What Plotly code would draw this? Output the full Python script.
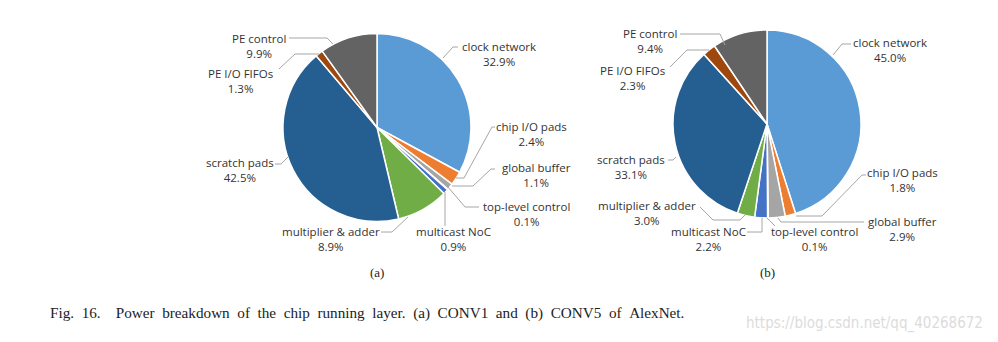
import plotly.graph_objects as go

# ---------------- data ----------------
categories = ["clock network", "chip I/O pads", "global buffer", "top-level control",
              "multicast NoC", "multiplier & adder", "scratch pads", "PE I/O FIFOs", "PE control"]
conv1_share = [32.9, 2.4, 1.1, 0.1, 0.9, 8.9, 42.5, 1.3, 9.9]
conv5_share = [45.0, 1.8, 2.9, 0.1, 2.2, 3.0, 33.1, 2.3, 9.4]
slice_colors = ["#5B9BD5", "#ED7D31", "#A5A5A5", "#FFC000", "#4472C4",
                "#70AD47", "#255E91", "#9E480E", "#636363"]

W, H = 998, 342
R = 94
centers = [(377, 127.5), (767, 124)]

# label layout (pixel centre of two-line label) per pie
label_pos_a = [(499, 54), (531, 134), (536, 175), (526, 214), (453, 239),
               (331, 239), (240, 170), (240, 81), (259, 46)]
label_pos_b = [(890, 50), (902, 180), (902, 229), (814, 239), (708, 239),
               (647, 213), (631, 167), (632, 78), (650, 41)]

# leader-line layout (pixel points)
leaders_a = [
    [(443, 58), (453, 47), (458, 47)],
    [(456, 178), (464, 178), (492, 127), (495, 127)],
    [(452, 186), (473, 186), (491, 169), (495, 169)],
    [(448, 187), (465, 207), (479, 207)],
    [(445, 192), (445, 226)],
    [(408, 217), (392, 232), (381, 232)],
    [(288, 157), (281, 164), (275, 164)],
    [(319, 54), (295, 54), (279, 69)],
    [(333, 44), (327, 38), (289, 38)],
]
leaders_b = [
    [(833, 55), (842, 44), (851, 44)],
    [(796, 216), (822, 216), (862, 175), (866, 175)],
    [(778, 218), (781, 222), (864, 222)],
    [(767, 218), (775, 226)],
    [(762, 218), (762, 232), (747, 232)],
    [(745, 215), (740, 220), (713, 220), (700, 207)],
    [(676, 157), (673, 160), (668, 160)],
    [(709, 50), (687, 50), (670, 67)],
    [(725, 45), (720, 34), (680, 34)],
]

LABEL_FONT = dict(family="Open Sans, Noto Sans, sans-serif", size=11.5, color="#333333")
LEADER_COLOR = "#A6A6A6"

fig = go.Figure()

# invisible pixel-space axes for annotations / leader lines
fig.add_trace(go.Scatter(x=[0, W], y=[0, H], mode="markers",
                         marker=dict(opacity=0), hoverinfo="skip", showlegend=False))

for (cx, cy), vals in zip(centers, [conv1_share, conv5_share]):
    fig.add_trace(go.Pie(
        labels=categories, values=vals, sort=False, direction="clockwise", rotation=0,
        marker=dict(colors=slice_colors, line=dict(color="white", width=1.5)),
        textinfo="none", hoverinfo="skip", showlegend=False,
        domain=dict(x=[(cx - R) / W, (cx + R) / W], y=[1 - (cy + R) / H, 1 - (cy - R) / H]),
    ))

annotations = []
shapes = []
for vals, lpos, leads in [(conv1_share, label_pos_a, leaders_a), (conv5_share, label_pos_b, leaders_b)]:
    for cat, v, (lx, ly), pts in zip(categories, vals, lpos, leads):
        annotations.append(dict(x=lx, y=ly, xref="x", yref="y", text=f"{cat}<br>{v:.1f}%",
                                showarrow=False, font=LABEL_FONT, align="center",
                                xanchor="center", yanchor="middle"))
        path = "M " + " L ".join(f"{px},{py}" for px, py in pts)
        shapes.append(dict(type="path", path=path, xref="x", yref="y",
                           line=dict(color=LEADER_COLOR, width=1)))

SERIF = "Liberation Serif, Times New Roman, serif"
for (cx, _), sub in zip(centers, ["(a)", "(b)"]):
    annotations.append(dict(x=cx, y=272, xref="x", yref="y", text=sub, showarrow=False,
                            font=dict(family=SERIF, size=13, color="#222"),
                            xanchor="center", yanchor="middle"))

EN = "\u2002"
caption_words = "Power breakdown of the chip running layer. (a) CONV1 and (b) CONV5 of AlexNet.".split(" ")
caption = "Fig." + EN + "16." + EN * 2 + EN.join(caption_words)
annotations.append(dict(x=48, y=313, xref="x", yref="y", text=caption,
                        showarrow=False, font=dict(family=SERIF, size=15.2, color="#222"),
                        xanchor="left", yanchor="middle"))
annotations.append(dict(x=985, y=323, xref="x", yref="y",
                        text="https://blog.csdn.net/qq_40268672",
                        showarrow=False, font=dict(family="Liberation Sans Narrow, DejaVu Sans Condensed, sans-serif", size=15, color="#DCDCDC"),
                        xanchor="right", yanchor="middle"))

fig.update_layout(
    width=W, height=H, margin=dict(l=0, r=0, t=0, b=0),
    paper_bgcolor="white", plot_bgcolor="rgba(0,0,0,0)",
    xaxis=dict(range=[0, W], visible=False, fixedrange=True, domain=[0, 1]),
    yaxis=dict(range=[H, 0], visible=False, fixedrange=True, domain=[0, 1]),
    annotations=annotations, shapes=shapes,
)

fig.write_html("out.html", config={"displayModeBar": False})
